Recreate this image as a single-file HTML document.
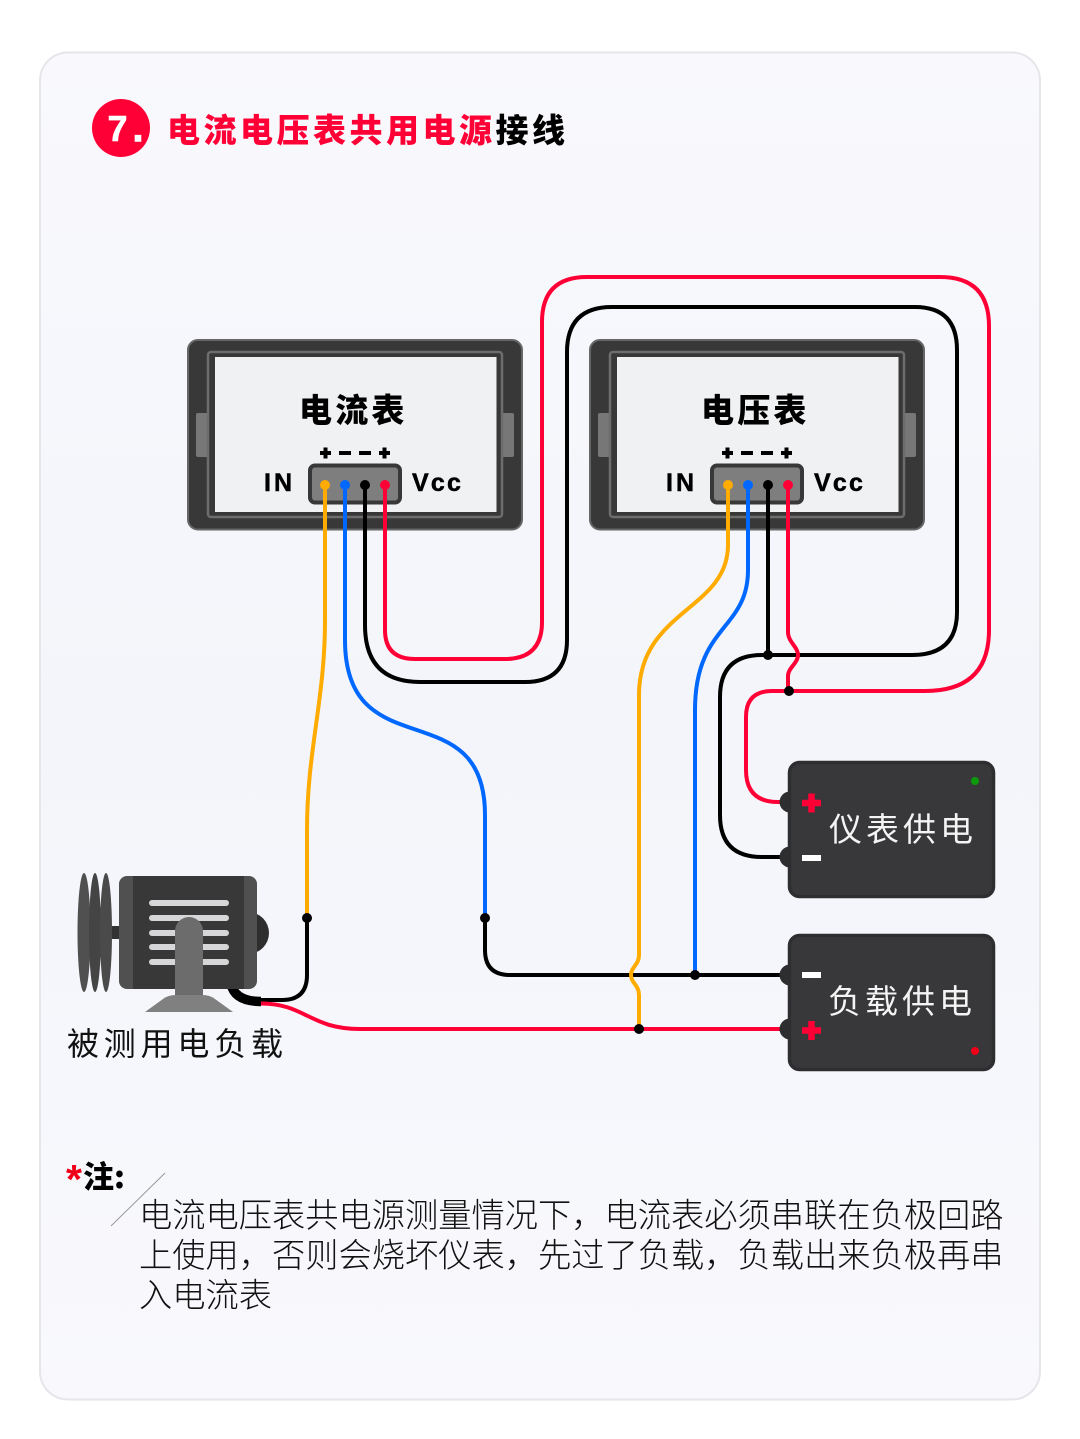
<!DOCTYPE html>
<html><head><meta charset="utf-8"><style>
html,body{margin:0;padding:0;background:#fff}
svg{display:block}
text{font-family:"Liberation Sans","Noto Sans CJK SC",sans-serif}
.cn{font-family:"Noto Sans CJK SC",sans-serif}
</style></head><body>
<svg width="1080" height="1439" viewBox="0 0 1080 1439" xmlns="http://www.w3.org/2000/svg">
<defs>
<linearGradient id="bg" x1="0" y1="0" x2="0" y2="1"><stop offset="0" stop-color="#f9f9fd"/><stop offset=".5" stop-color="#f3f5fa"/><stop offset="1" stop-color="#f9f9fd"/></linearGradient>
<g id="meter">
<rect x="188" y="340" width="334" height="189.500" rx="10" fill="#383839" stroke="#666" stroke-width="2"/>
<rect x="196" y="413" width="14" height="44" rx="2" fill="#777"/>
<rect x="500" y="413" width="14" height="44" rx="2" fill="#777"/>
<rect x="208" y="352" width="294" height="165" rx="3" fill="#383839" stroke="#6d6d6d" stroke-width="2.500"/>
<rect x="215" y="357" width="281.500" height="155" fill="#f0f1f3"/>
<rect x="310" y="465.500" width="90" height="37" rx="5" fill="#7e7e7e" stroke="#383839" stroke-width="4"/>
<path d="M320 453h11M325.500 447.500v11M339 453h12M359 453h12M379 453h11M384.500 447.500v11" stroke="#000" stroke-width="4" fill="none"/>
<text x="264" y="491" font-size="25" font-weight="700" letter-spacing="3" fill="#000" stroke="#000" stroke-width=".5">IN</text>
<text x="412" y="491" font-size="25" font-weight="700" letter-spacing="2.200" fill="#000" stroke="#000" stroke-width=".5">Vcc</text>
</g>
<g id="box"><rect x="789.500" y="0" width="204" height="134" rx="10" fill="#38383a" stroke="#2e2e30" stroke-width="3.500"/></g>
</defs>
<rect x="40" y="52.500" width="1000" height="1347" rx="28" fill="url(#bg)" stroke="#e4e6ea" stroke-width="2"/>

<circle cx="121" cy="128" r="29" fill="#ff0036"/>
<text x="107.500" y="141" font-size="36" font-weight="700" fill="#fff" stroke="#fff" stroke-width=".6">7</text>
<text x="133" y="141" font-size="36" font-weight="700" fill="#fff" stroke="#fff" stroke-width="1.500">.</text>
<text x="167" y="142" font-size="33" font-weight="900" letter-spacing="3.500" fill="#ff0036" class="cn">电流电压表共用电源<tspan fill="#000">接线</tspan></text>

<use href="#meter"/>
<use href="#meter" x="402"/>
<text x="299" y="422" font-size="33" font-weight="900" letter-spacing="3.200" fill="#000" class="cn">电流表</text>
<text x="701" y="422" font-size="33" font-weight="900" letter-spacing="3.200" fill="#000" class="cn">电压表</text>

<!-- motor -->
<path d="M231 984Q235 1001.500 261 1001.500" stroke="#000" stroke-width="9.500" fill="none"/>
<ellipse cx="84" cy="932.500" rx="6.500" ry="59.500" fill="#505050"/>
<ellipse cx="95" cy="932.500" rx="6" ry="59.500" fill="#444"/>
<ellipse cx="106" cy="932.500" rx="6" ry="59.500" fill="#4a4a4a"/>
<rect x="112" y="926" width="8" height="13" fill="#333"/>
<circle cx="248" cy="933" r="21" fill="#2e2e2e"/>
<rect x="119" y="876" width="138" height="113" rx="8" fill="#505050"/>
<rect x="133" y="876" width="111" height="113" fill="#383839"/>
<g fill="#d6d5d7"><rect x="149" y="900" width="80" height="6" rx="3"/><rect x="149" y="915" width="80" height="6" rx="3"/><rect x="149" y="930" width="80" height="6" rx="3"/><rect x="149" y="944" width="80" height="6" rx="3"/><rect x="149" y="959" width="80" height="6" rx="3"/></g>
<path d="M175 997V931a14 14 0 0 1 14-14a14 14 0 0 1 14 14V997z" fill="#6c6c6c"/>
<path d="M145 1012L163 999Q168 995 176 995H202Q210 995 215 999L233 1012z" fill="#808080"/>
<text x="67" y="1055" font-size="32" letter-spacing="4.800" fill="#111" class="cn">被测用电负载</text>

<!-- wires -->
<g fill="none" stroke-width="4">
<path stroke="#000" d="M365 485V625Q365 682 420 682H525Q567 682 567 640V352Q567 307 612 307H915Q957 307 957 350V612Q957 655 912 655H762Q720 655 720 697V815Q720 857 762 857H785"/>
<path stroke="#ff0036" d="M385 485V630Q385 659 415 659H505Q542 659 542 622V322Q542 277 587 277H940Q989 277 989 326V630Q989 691 925 691H772Q746 691 746 717V770Q746 802 778 802H785"/>
<path stroke="#000" d="M307 918V975Q307 1000 282 1000H260"/>
<path stroke="#ff0036" d="M261 1003.500C305 1003.500 310 1029 360 1029H785"/>
<path stroke="#000" d="M485 918V950Q485 975 510 975H785"/>
<path stroke="#000" d="M768 485V655"/>
<path stroke="#ffab00" d="M325 485V620C325 700 307 750 307 830V918"/>
<path stroke="#0068ff" d="M345 485V640C345 770 485 690 485 815V918"/>
<path stroke="#ffab00" d="M728 485V545C728 610 639 610 639 695V955C639 965 631 967 631 975C631 983 639 985 639 995V1029"/>
<path stroke="#0068ff" d="M748 485V570C748 630 695 625 695 710V975"/>
<path stroke="#ff0036" d="M788 485V632C788 642 798 647 798 655C798 663 788 668 788 676V691"/>
</g>
<g fill="#000"><circle cx="307" cy="918" r="5"/><circle cx="485" cy="918" r="5"/><circle cx="695" cy="975" r="5"/><circle cx="639" cy="1029" r="5"/><circle cx="768" cy="655" r="5"/><circle cx="789" cy="691" r="5"/></g>
<g><circle cx="325" cy="485" r="5" fill="#ffab00"/><circle cx="345" cy="485" r="5" fill="#0068ff"/><circle cx="365" cy="485" r="5" fill="#000"/><circle cx="385" cy="485" r="5" fill="#ff0036"/>
<circle cx="728" cy="485" r="5" fill="#ffab00"/><circle cx="748" cy="485" r="5" fill="#0068ff"/><circle cx="768" cy="485" r="5" fill="#000"/><circle cx="788" cy="485" r="5" fill="#ff0036"/></g>

<!-- power boxes -->
<circle cx="790" cy="802" r="10.500" fill="#2e2e30"/><circle cx="790" cy="857" r="10.500" fill="#2e2e30"/>
<circle cx="790" cy="975" r="10.500" fill="#2e2e30"/><circle cx="790" cy="1029" r="10.500" fill="#2e2e30"/>
<use href="#box" y="762.500"/>
<use href="#box" y="935.500"/>
<path d="M802 803h19M811.500 793.500v19" stroke="#ff0036" stroke-width="6.500"/>
<path d="M802 858h19" stroke="#fff" stroke-width="6"/>
<path d="M802 975h19" stroke="#fff" stroke-width="6"/>
<path d="M802 1030.500h19M811.500 1021v19" stroke="#ff0036" stroke-width="6.500"/>
<circle cx="975" cy="781" r="4" fill="#0a9a0a"/>
<circle cx="975" cy="1051" r="4" fill="#f00018"/>
<text x="829" y="841" font-size="33" letter-spacing="4" fill="#f4f4f4" class="cn">仪表供电</text>
<text x="828" y="1013" font-size="33" letter-spacing="4" fill="#f4f4f4" class="cn">负载供电</text>

<!-- note -->
<text x="66" y="1193" font-size="41" font-weight="700" fill="#f00018">*</text>
<text x="83" y="1188" font-size="31" font-weight="900" fill="#000" class="cn">注:</text>
<path d="M111 1226L165 1173" stroke="#999" stroke-width="1"/>
<g font-size="33.250" font-weight="300" fill="#111" class="cn">
<text x="139" y="1227">电流电压表共电源测量情况下&#xFF0C;电流表必须串联在负极回路</text>
<text x="139" y="1267">上使用&#xFF0C;否则会烧坏仪表&#xFF0C;先过了负载&#xFF0C;负载出来负极再串</text>
<text x="139" y="1307">入电流表</text>
</g>
</svg>
</body></html>
